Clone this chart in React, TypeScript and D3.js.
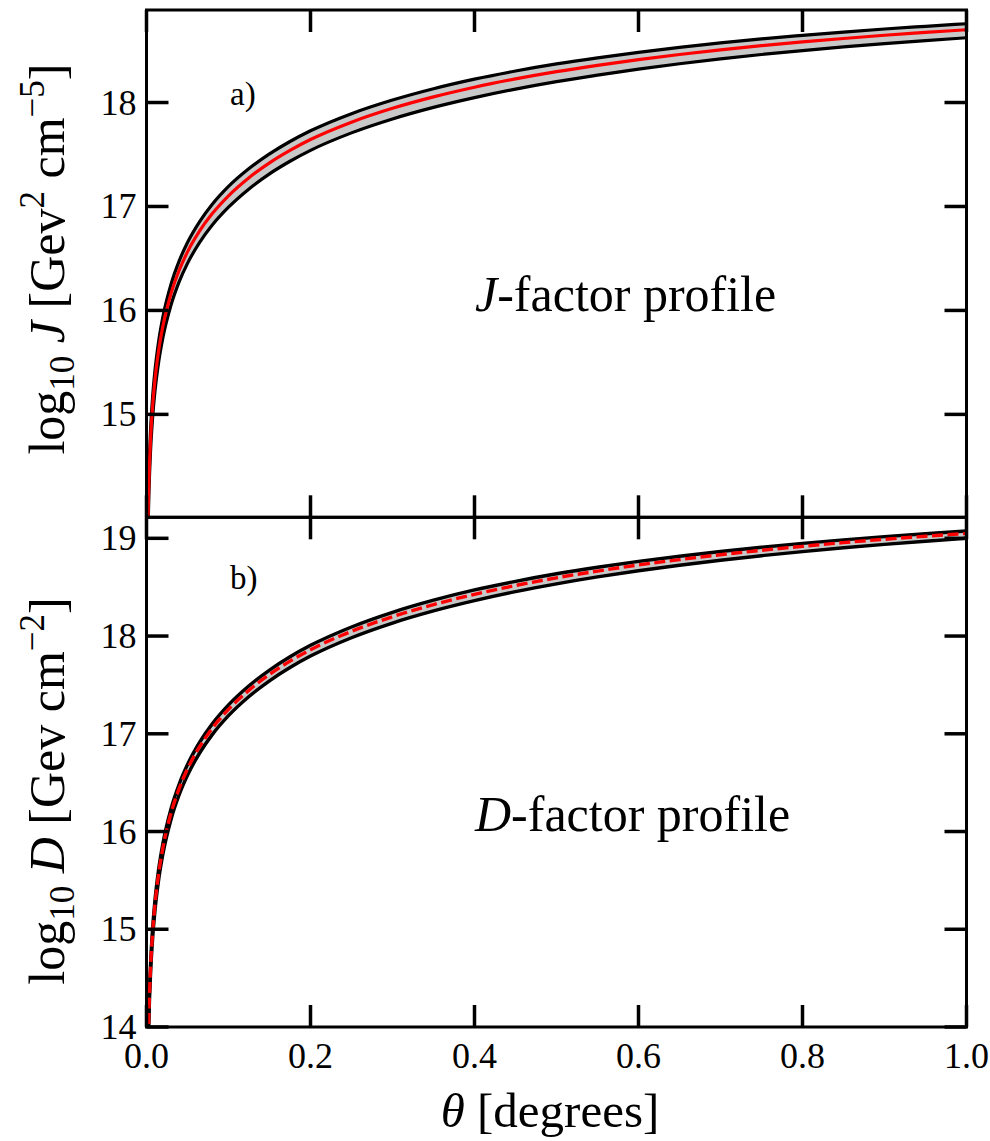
import React from "react";
import * as d3 from "d3";

const theta = [0.0015, 0.002, 0.003, 0.005, 0.0075, 0.01, 0.015, 0.02, 0.03, 0.04, 0.05, 0.065, 0.08, 0.1, 0.125, 0.15, 0.175, 0.2, 0.25, 0.3, 0.35, 0.4, 0.45, 0.5, 0.55, 0.6, 0.65, 0.7, 0.75, 0.8, 0.85, 0.9, 0.95, 1.0];

const jCenter = [13.828, 14.052, 14.368, 14.767, 15.083, 15.307, 15.624, 15.848, 16.164, 16.389, 16.563, 16.767, 16.929, 17.103, 17.277, 17.420, 17.540, 17.644, 17.811, 17.944, 18.054, 18.147, 18.227, 18.297, 18.358, 18.413, 18.462, 18.507, 18.547, 18.583, 18.616, 18.647, 18.674, 18.700];
const jUpper = [13.918, 14.142, 14.458, 14.857, 15.173, 15.397, 15.714, 15.938, 16.254, 16.479, 16.653, 16.857, 17.019, 17.193, 17.365, 17.506, 17.625, 17.728, 17.893, 18.024, 18.133, 18.225, 18.303, 18.371, 18.430, 18.483, 18.530, 18.573, 18.612, 18.646, 18.678, 18.707, 18.733, 18.758];
const jLower = [13.718, 13.942, 14.258, 14.657, 14.973, 15.197, 15.514, 15.738, 16.054, 16.279, 16.453, 16.657, 16.819, 16.993, 17.169, 17.314, 17.435, 17.540, 17.708, 17.842, 17.953, 18.047, 18.129, 18.201, 18.264, 18.322, 18.373, 18.420, 18.462, 18.500, 18.535, 18.567, 18.596, 18.623];

const dCenter = [13.554, 13.808, 14.164, 14.614, 14.971, 15.224, 15.581, 15.834, 16.191, 16.444, 16.640, 16.871, 17.054, 17.250, 17.446, 17.607, 17.743, 17.860, 18.048, 18.198, 18.322, 18.427, 18.517, 18.596, 18.665, 18.727, 18.782, 18.832, 18.877, 18.918, 18.956, 18.990, 19.021, 19.050];
const dUpper = [13.599, 13.853, 14.209, 14.659, 15.016, 15.269, 15.626, 15.879, 16.236, 16.489, 16.685, 16.916, 17.099, 17.295, 17.491, 17.652, 17.788, 17.905, 18.093, 18.243, 18.367, 18.472, 18.560, 18.637, 18.704, 18.764, 18.817, 18.865, 18.908, 18.948, 18.984, 19.017, 19.047, 19.075];
const dLower = [13.489, 13.743, 14.099, 14.549, 14.906, 15.159, 15.516, 15.769, 16.126, 16.379, 16.575, 16.806, 16.989, 17.185, 17.381, 17.542, 17.678, 17.795, 17.983, 18.133, 18.257, 18.362, 18.454, 18.534, 18.605, 18.668, 18.724, 18.776, 18.822, 18.864, 18.903, 18.938, 18.970, 19.000];

const xTicks = [0, 0.2, 0.4, 0.6, 0.8, 1.0];
const xTickLabels = ["0.0", "0.2", "0.4", "0.6", "0.8", "1.0"];
const topYTicks = [15, 16, 17, 18];
const botYTicks = [14, 15, 16, 17, 18, 19];

const FONT = '"Liberation Serif", "Times New Roman", "DejaVu Serif", serif';
const fs = (size: number) => ({ fontFamily: FONT, fontSize: size + "px" });

const L = 146.5, R = 966.5, T1 = 10, B1 = 517.3, T2 = 517.3, B2 = 1027;

export default function App() {
  const x = d3.scaleLinear().domain([0, 1]).range([L, R]);
  const yTop = d3.scaleLinear().domain([14.01, 18.89]).range([B1, T1]);
  const yBot = d3.scaleLinear().domain([14, 19.215]).range([B2, T2]);

  const mkLine = (y: d3.ScaleLinear<number, number>, vals: number[]) =>
    d3.line<number>().x((_, i) => x(theta[i])).y((v) => y(v)).curve(d3.curveMonotoneX)(vals) || "";
  const mkArea = (y: d3.ScaleLinear<number, number>, lo: number[], hi: number[]) =>
    d3.area<number>().x((_, i) => x(theta[i])).y0((_, i) => y(lo[i])).y1((_, i) => y(hi[i])).curve(d3.curveMonotoneX)(theta) || "";

  const tickLen = 22;
  const tickW = 3.5;
  const sub = { fontSize: "35px" };

  const panelTicks = (y: d3.ScaleLinear<number, number>, yt: number[], top: number, bottom: number, key: string) => (
    <g key={key}>
      {xTicks.map((t, i) => (
        <g key={"x" + i}>
          <line x1={x(t)} x2={x(t)} y1={top} y2={top + tickLen} stroke="#000" strokeWidth={tickW} />
          <line x1={x(t)} x2={x(t)} y1={bottom} y2={bottom - tickLen} stroke="#000" strokeWidth={tickW} />
        </g>
      ))}
      {yt.map((t, i) => (
        <g key={"y" + i}>
          <line x1={L} x2={L + tickLen} y1={y(t)} y2={y(t)} stroke="#000" strokeWidth={tickW} />
          <line x1={R} x2={R - tickLen} y1={y(t)} y2={y(t)} stroke="#000" strokeWidth={tickW} />
          <text x={L - 10} y={y(t) + 12} textAnchor="end" style={fs(36)}>{t}</text>
        </g>
      ))}
    </g>
  );

  return (
    <svg width={990} height={1141} style={{ position: "absolute", left: 0, top: 0, background: "#fff" }}>
      <defs>
        <clipPath id="c1"><rect x={L} y={T1} width={R - L} height={B1 - T1} /></clipPath>
        <clipPath id="c2"><rect x={L} y={T2} width={R - L} height={B2 - T2} /></clipPath>
      </defs>

      <g clipPath="url(#c1)">
        <path d={mkArea(yTop, jLower, jUpper)} fill="#c8c8c8" />
        <path d={mkLine(yTop, jUpper)} fill="none" stroke="#000" strokeWidth={3.2} />
        <path d={mkLine(yTop, jLower)} fill="none" stroke="#000" strokeWidth={3.2} />
        <path d={mkLine(yTop, jCenter)} fill="none" stroke="#ff0000" strokeWidth={3.2} />
      </g>

      <g clipPath="url(#c2)">
        <path d={mkArea(yBot, dLower, dUpper)} fill="#c8c8c8" />
        <path d={mkLine(yBot, dUpper)} fill="none" stroke="#000" strokeWidth={3.4} />
        <path d={mkLine(yBot, dLower)} fill="none" stroke="#000" strokeWidth={3.4} />
        <path d={mkLine(yBot, dCenter)} fill="none" stroke="#ff0000" strokeWidth={3.4} strokeDasharray="11,4.5" />
      </g>

      {panelTicks(yTop, topYTicks, T1, B1, "p1")}
      {panelTicks(yBot, botYTicks, T2, B2, "p2")}

      <rect x={L} y={T1} width={R - L} height={B1 - T1} fill="none" stroke="#000" strokeWidth={3} />
      <rect x={L} y={T2} width={R - L} height={B2 - T2} fill="none" stroke="#000" strokeWidth={3} />

      {xTicks.map((t, i) => (
        <text key={"xl" + i} x={x(t)} y={1068} textAnchor="middle" style={fs(36)}>{xTickLabels[i]}</text>
      ))}

      <text x={230} y={105} style={fs(33)}>a)</text>
      <text x={230} y={589} style={fs(33)}>b)</text>

      <text x={475} y={311} style={fs(50)}>
        <tspan fontStyle="italic">J</tspan>-factor profile
      </text>
      <text x={475} y={831} style={fs(50)}>
        <tspan fontStyle="italic">D</tspan>-factor profile
      </text>

      <text x={550} y={1127} textAnchor="middle" style={fs(49)}>
        <tspan fontStyle="italic">θ</tspan> [degrees]
      </text>

      <text transform="translate(64,259) rotate(-90)" textAnchor="middle" style={fs(50)}>
        log<tspan style={sub} dy={10}>10</tspan><tspan dy={-10} fontStyle="italic"> J</tspan> [Gev<tspan style={sub} dy={-20}>2</tspan><tspan dy={20}> cm</tspan><tspan style={sub} dy={-20}>−5</tspan><tspan dy={20}>]</tspan>
      </text>
      <text transform="translate(64,791) rotate(-90)" textAnchor="middle" style={fs(50)}>
        log<tspan style={sub} dy={10}>10</tspan><tspan dy={-10} fontStyle="italic"> D</tspan> [Gev cm<tspan style={sub} dy={-20}>−2</tspan><tspan dy={20}>]</tspan>
      </text>
    </svg>
  );
}
